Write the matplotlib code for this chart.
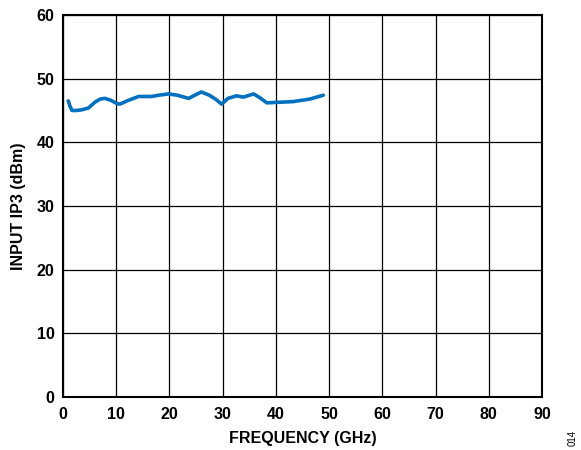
import matplotlib
matplotlib.use("Agg")
import matplotlib.pyplot as plt

freq_ghz = [1.0, 1.3, 1.7, 2.5, 3.5, 4.8, 6.0, 7.0, 7.9, 9.0, 10.1, 10.7, 12.0, 14.2, 16.7, 18.0, 19.8, 21.5, 23.6, 25.0, 26.0, 27.5, 28.8, 29.8, 31.0, 32.6, 33.9, 35.8, 37.0, 38.3, 40.8, 43.3, 46.4, 48.9]
ip3_dbm = [46.5, 45.7, 45.0, 45.0, 45.1, 45.4, 46.3, 46.8, 46.9, 46.6, 46.1, 46.0, 46.5, 47.2, 47.2, 47.4, 47.6, 47.4, 46.9, 47.5, 47.9, 47.4, 46.7, 46.0, 46.9, 47.3, 47.1, 47.6, 47.0, 46.2, 46.3, 46.4, 46.8, 47.4]

x_ticks = list(range(0, 91, 10))
y_ticks = list(range(0, 61, 10))

plt.rcParams['font.family'] = ['Liberation Sans', 'DejaVu Sans']
fig = plt.figure(figsize=(5.81, 4.5), dpi=100)
ax = fig.add_axes([0.1084, 0.1178, 0.8245, 0.8489])
ax.plot(freq_ghz, ip3_dbm, color='#0070C0', linewidth=2.6, solid_capstyle='round', solid_joinstyle='round')
ax.set_xlim(0, 90)
ax.set_ylim(0, 60)
ax.set_xticks(x_ticks)
ax.set_yticks(y_ticks)
ax.grid(True, color='black', linewidth=0.9)
ax.set_axisbelow(True)
for s in ax.spines.values():
    s.set_linewidth(1.5)
    s.set_color('black')
ax.tick_params(axis='x', length=0, pad=7, labelsize=11.5)
ax.tick_params(axis='y', length=0, pad=6, labelsize=11.5)
for lab in ax.get_xticklabels() + ax.get_yticklabels():
    lab.set_fontweight('bold')
ax.set_xlabel('FREQUENCY (GHz)', fontsize=11.5, fontweight='bold', labelpad=7)
ax.set_ylabel('INPUT IP3 (dBm)', fontsize=11.5, fontweight='bold', labelpad=8)
fig.text(0.985, 0.027, '014', rotation=90, fontsize=7, ha='center', va='center')
fig.savefig('out.png', dpi=100)
